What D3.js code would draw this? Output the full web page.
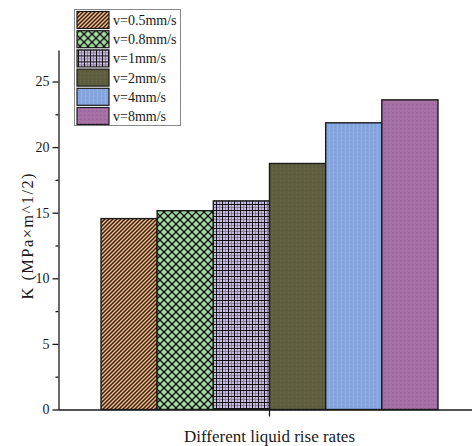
<!DOCTYPE html>
<html>
<head>
<meta charset="utf-8">
<script src="https://cdn.jsdelivr.net/npm/d3@7"></script>
<style>
  html, body { margin: 0; padding: 0; background: #fff; }
  svg { display: block; }
  text { font-family: "Liberation Serif", "Times New Roman", serif; fill: #1a1a1a; }
</style>
</head>
<body>
<svg id="chart" width="472" height="446"></svg>
<script>
// ---- data ----
const categories = ["Different liquid rise rates"];
const series = ["v=0.5mm/s", "v=0.8mm/s", "v=1mm/s", "v=2mm/s", "v=4mm/s", "v=8mm/s"];
const values = [14.55, 15.15, 15.9, 18.75, 21.85, 23.6];
const yTicks = [0, 5, 10, 15, 20, 25];
const yMinorTicks = [2.5, 7.5, 12.5, 17.5, 22.5];
const yLabel = "K (MPa×m^1/2)";
const fills = ["url(#p0)", "url(#p1)", "url(#p2)", "url(#p3)", "url(#p4)", "url(#p5)"];

const svg = d3.select("#chart");
const defs = svg.append("defs");
const serif = "Liberation Serif, Times New Roman, serif";

// pattern 0: orange with diagonal stripes
let p = defs.append("pattern").attr("id", "p0").attr("patternUnits", "userSpaceOnUse")
  .attr("width", 4).attr("height", 4);
p.append("rect").attr("width", 4).attr("height", 4).attr("fill", "#f9bd8a");
p.append("path").attr("d", "M-1,1 L1,-1 M0,4 L4,0 M3,5 L5,3")
  .attr("stroke", "#2e2012").attr("stroke-width", 1.45);

// pattern 1: green with crosshatch
p = defs.append("pattern").attr("id", "p1").attr("patternUnits", "userSpaceOnUse")
  .attr("width", 8).attr("height", 8);
p.append("rect").attr("width", 8).attr("height", 8).attr("fill", "#a3d9a3");
p.append("path").attr("d", "M0,0 L8,8 M8,0 L0,8")
  .attr("stroke", "#111").attr("stroke-width", 1.3);

// pattern 2: lavender grid
p = defs.append("pattern").attr("id", "p2").attr("patternUnits", "userSpaceOnUse")
  .attr("width", 6).attr("height", 6);
p.append("rect").attr("width", 6).attr("height", 6).attr("fill", "#cbbde6");
p.append("path").attr("d", "M0,3.5 L6,3.5 M3.5,0 L3.5,6")
  .attr("stroke", "#8a7f9a").attr("stroke-width", 1);
p.append("path").attr("d", "M0,0.5 L6,0.5 M0.5,0 L0.5,6")
  .attr("stroke", "#111").attr("stroke-width", 1);

// pattern 3: olive texture
p = defs.append("pattern").attr("id", "p3").attr("patternUnits", "userSpaceOnUse")
  .attr("width", 4).attr("height", 4);
p.append("rect").attr("width", 4).attr("height", 4).attr("fill", "#5f5f40");
p.append("rect").attr("x", 0).attr("y", 0).attr("width", 1).attr("height", 1).attr("fill", "#6c6c4c");
p.append("rect").attr("x", 2).attr("y", 2).attr("width", 1).attr("height", 1).attr("fill", "#52523a");

// pattern 4: blue texture
p = defs.append("pattern").attr("id", "p4").attr("patternUnits", "userSpaceOnUse")
  .attr("width", 4).attr("height", 4);
p.append("rect").attr("width", 4).attr("height", 4).attr("fill", "#87a6df");
p.append("rect").attr("x", 1).attr("y", 0).attr("width", 1).attr("height", 4).attr("fill", "#93b1e6");
p.append("rect").attr("x", 3).attr("y", 2).attr("width", 1).attr("height", 1).attr("fill", "#7a98d2");

// pattern 5: purple texture
p = defs.append("pattern").attr("id", "p5").attr("patternUnits", "userSpaceOnUse")
  .attr("width", 4).attr("height", 4);
p.append("rect").attr("width", 4).attr("height", 4).attr("fill", "#a571a5");
p.append("rect").attr("x", 0).attr("y", 0).attr("width", 2).attr("height", 1).attr("fill", "#99659a");
p.append("rect").attr("x", 2).attr("y", 2).attr("width", 1).attr("height", 1).attr("fill", "#b07cb0");

// ---- scales ----
const x0 = d3.scaleBand().domain(categories).range([58, 481]).paddingInner(0).paddingOuter(0.1276);
const x1 = d3.scaleBand().domain(series).range([0, x0.bandwidth()]).padding(0);
const y = d3.scaleLinear().domain([0, 27.4]).range([409.5, 50]);

// ---- bars ----
const g = svg.append("g");
categories.forEach(cat => {
  g.selectAll(null).data(series).enter().append("rect")
    .attr("x", (d) => x0(cat) + x1(d))
    .attr("y", (d, i) => y(values[i]))
    .attr("width", x1.bandwidth())
    .attr("height", (d, i) => y(0) - y(values[i]))
    .attr("fill", (d, i) => fills[i])
    .attr("stroke", "#1a1a1a")
    .attr("stroke-width", 1.4);
});

// ---- axes ----
const yAxis = svg.append("g").attr("transform", "translate(58.5,0)")
  .call(d3.axisLeft(y).tickValues(yTicks).tickSize(6).tickSizeOuter(0).tickPadding(3));
svg.append("g").attr("transform", "translate(58.5,0)")
  .call(d3.axisLeft(y).tickValues(yMinorTicks).tickSize(3).tickSizeOuter(0).tickFormat(""))
  .select(".domain").remove();
yAxis.selectAll("text").style("font-family", serif)
  .style("font-size", "14px").attr("fill", "#222");

svg.append("g").attr("transform", `translate(0,${y(0)})`)
  .call(d3.axisBottom(x0).tickSize(7).tickSizeOuter(0).tickFormat(""));

svg.selectAll(".domain, .tick line").attr("stroke", "#1a1a1a").attr("stroke-width", 1.3);

// axis titles
svg.append("text")
  .attr("transform", `translate(33,${(y(0) + 50) / 2 + 6}) rotate(-90)`)
  .attr("text-anchor", "middle")
  .style("font-family", serif)
  .style("font-size", "16.5px")
  .style("letter-spacing", "1.4px")
  .text(yLabel);

svg.append("text")
  .attr("x", x0(categories[0]) + x0.bandwidth() / 2)
  .attr("y", 442)
  .attr("text-anchor", "middle")
  .style("font-family", serif)
  .style("font-size", "17px")
  .text(categories[0]);

// ---- legend ----
const lg = svg.append("g");
lg.append("rect").attr("x", 74.5).attr("y", 9.5).attr("width", 106).attr("height", 116)
  .attr("fill", "#fff").attr("stroke", "#888").attr("stroke-width", 1);
const rows = lg.selectAll(null).data(series).enter().append("g")
  .attr("transform", (d, i) => `translate(0,${11 + i * 19.2})`);
rows.append("rect").attr("x", 77).attr("y", 0.5).attr("width", 32).attr("height", 17)
  .attr("fill", (d, i) => fills[i]).attr("stroke", "#1a1a1a").attr("stroke-width", 1.2);
rows.append("text").attr("x", 113).attr("y", 14)
  .style("font-family", serif)
  .style("font-size", "14px").text(d => d);
</script>
</body>
</html>
